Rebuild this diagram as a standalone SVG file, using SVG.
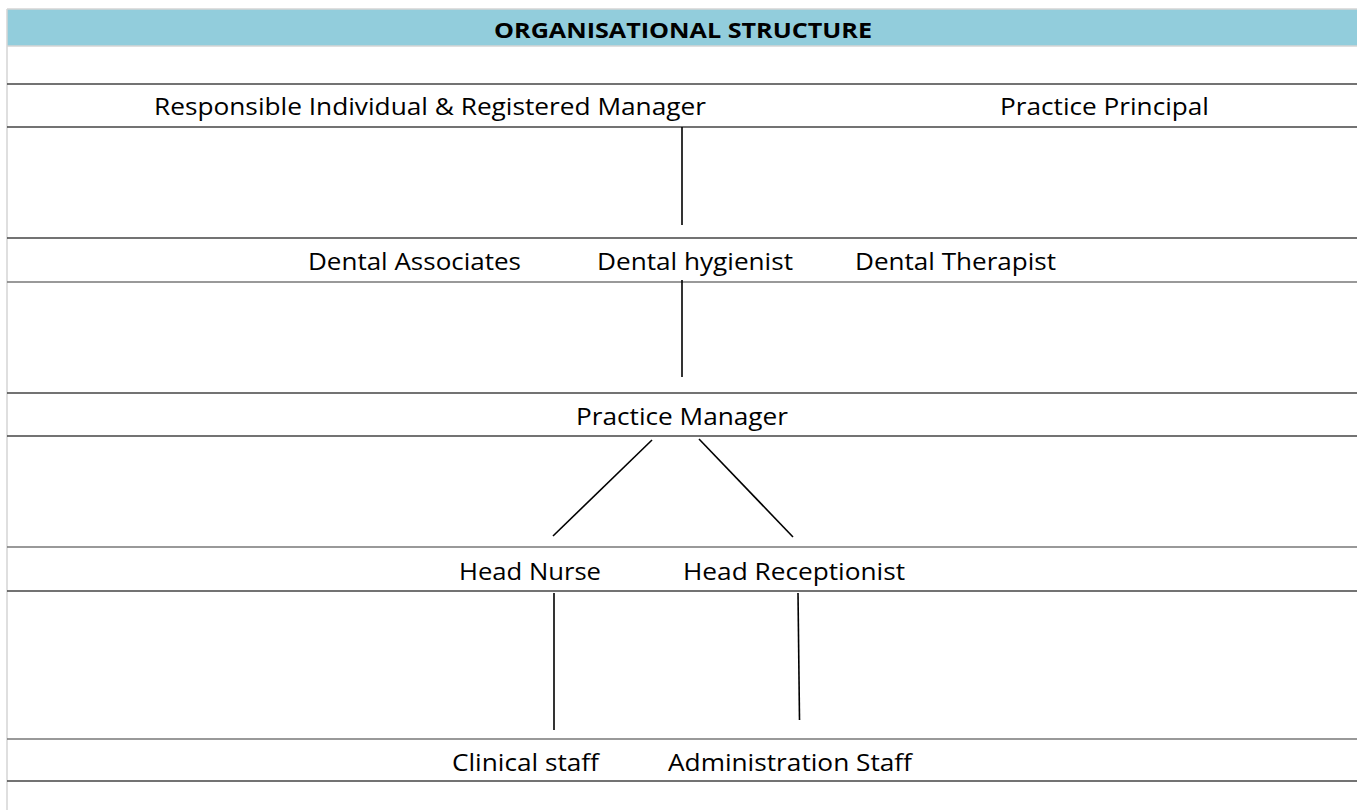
<svg xmlns="http://www.w3.org/2000/svg" width="1357" height="810" viewBox="0 0 1357 810">
<style>
.lbl{font-family:"Open Sans","Liberation Sans",sans-serif;font-size:23.5px;fill:#000}
.hdr{font-family:"Open Sans","Liberation Sans",sans-serif;font-size:22px;font-weight:bold;fill:#000}
.rule{stroke:#444;stroke-width:1.5}
.rule2{stroke:#777;stroke-width:1.5}
.conn line{stroke:#000;stroke-width:1.6}
</style>
<rect x="0" y="0" width="1357" height="810" fill="#fff"/>
<g id="frame">
<rect x="7" y="9" width="1350" height="37" fill="#92CDDC"/>
<line x1="7" y1="9" x2="1357" y2="9" stroke="#d4d4d4" stroke-width="1.5"/>
<line x1="7" y1="46" x2="1357" y2="46" stroke="#d4d4d4" stroke-width="1.5"/>
<line x1="7" y1="9" x2="7" y2="810" stroke="#d4d4d4" stroke-width="1.5"/>
<line class="rule" x1="7" y1="84" x2="1357" y2="84"/>
<line class="rule" x1="7" y1="127" x2="1357" y2="127"/>
<line class="rule" x1="7" y1="238" x2="1357" y2="238"/>
<line class="rule2" x1="7" y1="282" x2="1357" y2="282"/>
<line class="rule" x1="7" y1="393" x2="1357" y2="393"/>
<line class="rule" x1="7" y1="436" x2="1357" y2="436"/>
<line class="rule2" x1="7" y1="547" x2="1357" y2="547"/>
<line class="rule" x1="7" y1="591" x2="1357" y2="591"/>
<line class="rule2" x1="7" y1="739" x2="1357" y2="739"/>
<line class="rule" x1="7" y1="781" x2="1357" y2="781"/>
</g>
<g id="title"><text class="hdr" x="494" y="38" textLength="378" lengthAdjust="spacingAndGlyphs">ORGANISATIONAL STRUCTURE</text></g>
<g id="node-responsible"><text class="lbl" x="154" y="115" textLength="552" lengthAdjust="spacingAndGlyphs">Responsible Individual &amp; Registered Manager</text></g>
<g id="node-principal"><text class="lbl" x="1000" y="115" textLength="209" lengthAdjust="spacingAndGlyphs">Practice Principal</text></g>
<g id="node-associates"><text class="lbl" x="308" y="270" textLength="213" lengthAdjust="spacingAndGlyphs">Dental Associates</text></g>
<g id="node-hygienist"><text class="lbl" x="597" y="270" textLength="196" lengthAdjust="spacingAndGlyphs">Dental hygienist</text></g>
<g id="node-therapist"><text class="lbl" x="855" y="270" textLength="201" lengthAdjust="spacingAndGlyphs">Dental Therapist</text></g>
<g id="node-pm"><text class="lbl" x="576" y="425" textLength="212" lengthAdjust="spacingAndGlyphs">Practice Manager</text></g>
<g id="node-nurse"><text class="lbl" x="459" y="580" textLength="142" lengthAdjust="spacingAndGlyphs">Head Nurse</text></g>
<g id="node-reception"><text class="lbl" x="683" y="580" textLength="222" lengthAdjust="spacingAndGlyphs">Head Receptionist</text></g>
<g id="node-clinical"><text class="lbl" x="452" y="771" textLength="147" lengthAdjust="spacingAndGlyphs">Clinical staff</text></g>
<g id="node-admin"><text class="lbl" x="668" y="771" textLength="244" lengthAdjust="spacingAndGlyphs">Administration Staff</text></g>
<g id="connectors" class="conn">
<line x1="682" y1="127" x2="682" y2="225"/>
<line x1="682" y1="280" x2="682" y2="377"/>
<line x1="652" y1="440" x2="553" y2="536"/>
<line x1="699" y1="439" x2="793" y2="537"/>
<line x1="554" y1="593" x2="554" y2="730"/>
<line x1="798" y1="593" x2="799.5" y2="720"/>
</g>
</svg>
